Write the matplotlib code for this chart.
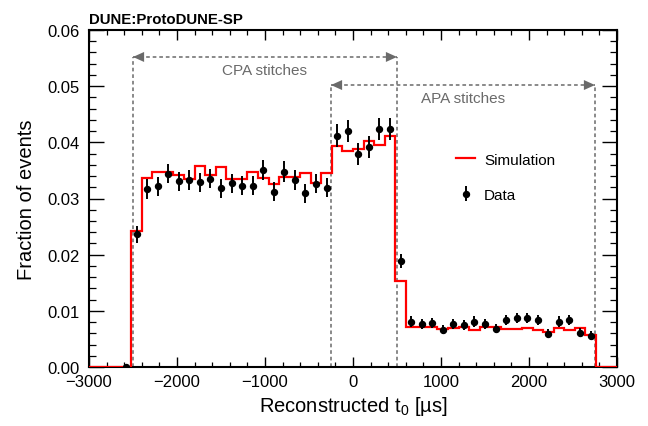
import numpy as np
import matplotlib
matplotlib.use("Agg")
import matplotlib.pyplot as plt
from matplotlib.ticker import MultipleLocator, FormatStrFormatter

plt.rcParams['font.family'] = ['Liberation Sans', 'DejaVu Sans']
plt.rcParams['mathtext.fontset'] = 'custom'
plt.rcParams['mathtext.rm'] = 'Liberation Sans'
plt.rcParams['mathtext.it'] = 'Liberation Sans:italic'

# ---- data ----
bin_edges = np.arange(-3000, 3001, 120)

sim_frac = [0.0, 0.0, 0.0, 0.0,
            0.0243,
            0.0337, 0.0348, 0.0347, 0.0341, 0.0335, 0.0357, 0.0342, 0.0356, 0.0335,
            0.0335, 0.0348, 0.0337, 0.0326, 0.0338, 0.0338, 0.0345, 0.0328, 0.0345,
            0.0394, 0.0385, 0.0389, 0.0403, 0.0395, 0.0412,
            0.0154,
            0.0071, 0.0072, 0.0072, 0.0068, 0.0070, 0.0072, 0.0065, 0.0071, 0.0071,
            0.0067, 0.0068, 0.0069, 0.0065, 0.0063, 0.0069, 0.0066, 0.0069, 0.0057,
            0.0, 0.0]

data_first_bin = 3
data_frac = [0.0,
             0.0236,
             0.0317, 0.0322, 0.0344, 0.0331, 0.0333, 0.0329, 0.0335, 0.0318, 0.0327,
             0.0323, 0.0323, 0.0351, 0.0312, 0.0348, 0.0333, 0.0309, 0.0326, 0.0319,
             0.0412, 0.0420, 0.0379, 0.0392, 0.0424, 0.0424,
             0.0189,
             0.0081, 0.0077, 0.0078, 0.0066, 0.0077, 0.0075, 0.0081, 0.0077, 0.0068,
             0.0083, 0.0087, 0.0087, 0.0084, 0.0059, 0.0081, 0.0083, 0.0061, 0.0056]
data_err = [0.0,
            0.0015,
            0.0017, 0.0017, 0.0017, 0.0017, 0.0017, 0.0017, 0.0017, 0.0017, 0.0017,
            0.0017, 0.0017, 0.0018, 0.0017, 0.0018, 0.0017, 0.0017, 0.0017, 0.0017,
            0.0020, 0.0020, 0.0019, 0.0020, 0.0020, 0.0020,
            0.0013,
            0.0009, 0.0009, 0.0009, 0.0008, 0.0009, 0.0009, 0.0009, 0.0009, 0.0008,
            0.0009, 0.0009, 0.0009, 0.0009, 0.0008, 0.0009, 0.0009, 0.0008, 0.0008]

cpa_range = (-2500, 500)
apa_range = (-250, 2750)
cpa_y = 0.0552
apa_y = 0.0502
cpa_label_y = 0.0529
apa_label_y = 0.0479

# ---- figure ----
fig = plt.figure(figsize=(6.48, 4.27), dpi=100)
ax = fig.add_axes([89/648, 1-368/427, 528/648, 337/427])

grey = '#6a6a6a'

# stitch annotations
for (x0, x1), y, ly, lab in [(cpa_range, cpa_y, cpa_label_y, 'CPA stitches'),
                             (apa_range, apa_y, apa_label_y, 'APA stitches')]:
    ax.plot([x0, x1], [y, y], color=grey, lw=1.1, ls=(0, (2.4, 1.9)), zorder=1)
    for xv in (x0, x1):
        ax.plot([xv, xv], [0, y], color=grey, lw=1.1, ls=(0, (2.4, 1.9)), zorder=1)
    for tip, tail in ((x0, x0 + 110), (x1, x1 - 110)):
        ax.annotate('', xy=(tip, y), xytext=(tail, y),
                    arrowprops=dict(arrowstyle='-|>,head_length=0.8,head_width=0.36',
                                    mutation_scale=10, color=grey, lw=0,
                                    shrinkA=0, shrinkB=0), zorder=2)
    ax.text((x0 + x1) / 2, ly, lab, ha='center', va='center', color=grey, fontsize=11)

# simulation histogram
ax.stairs(sim_frac, bin_edges, baseline=None, color='#ff0000', lw=1.6,
          label='Simulation', zorder=3)

# data points
centers = 0.5 * (bin_edges[:-1] + bin_edges[1:])
xc = centers[data_first_bin:data_first_bin + len(data_frac)]
ax.errorbar(xc, data_frac, yerr=data_err, fmt='o', color='black', ms=4.3,
            elinewidth=1.4, capsize=0, label='Data', zorder=4)

ax.set_xlim(-3000, 3000)
ax.set_ylim(0, 0.06)
ax.xaxis.set_major_locator(MultipleLocator(1000))
ax.xaxis.set_minor_locator(MultipleLocator(200))
ax.yaxis.set_major_locator(MultipleLocator(0.01))
ax.yaxis.set_minor_locator(MultipleLocator(0.002))
ax.yaxis.set_major_formatter(FormatStrFormatter('%.2f'))

ax.tick_params(which='both', direction='in', top=True, right=True, labelsize=12)
ax.tick_params(axis='x', which='major', length=7.2, width=1.0, pad=5)
ax.tick_params(axis='x', which='minor', length=3.6, width=0.9)
ax.tick_params(axis='y', which='major', length=10.8, width=1.0, pad=6.5)
ax.tick_params(axis='y', which='minor', length=5.0, width=0.9)
for s in ax.spines.values():
    s.set_linewidth(1.5)

ax.set_xlabel(r'Reconstructed t$_\mathregular{0}$ [µs]', fontsize=14.5, labelpad=4)
ax.set_ylabel('Fraction of events', fontsize=14.5, labelpad=8)

ax.text(0.0, 1.012, 'DUNE:ProtoDUNE-SP', transform=ax.transAxes, fontsize=10.8,
        fontweight='bold', ha='left', va='bottom')

ax.legend(loc='upper left', bbox_to_anchor=(0.695, 0.636), frameon=False,
          fontsize=11, borderpad=0, borderaxespad=0, handlelength=1.25,
          handletextpad=0.6, labelspacing=1.4)

fig.savefig('out.png', dpi=100)
